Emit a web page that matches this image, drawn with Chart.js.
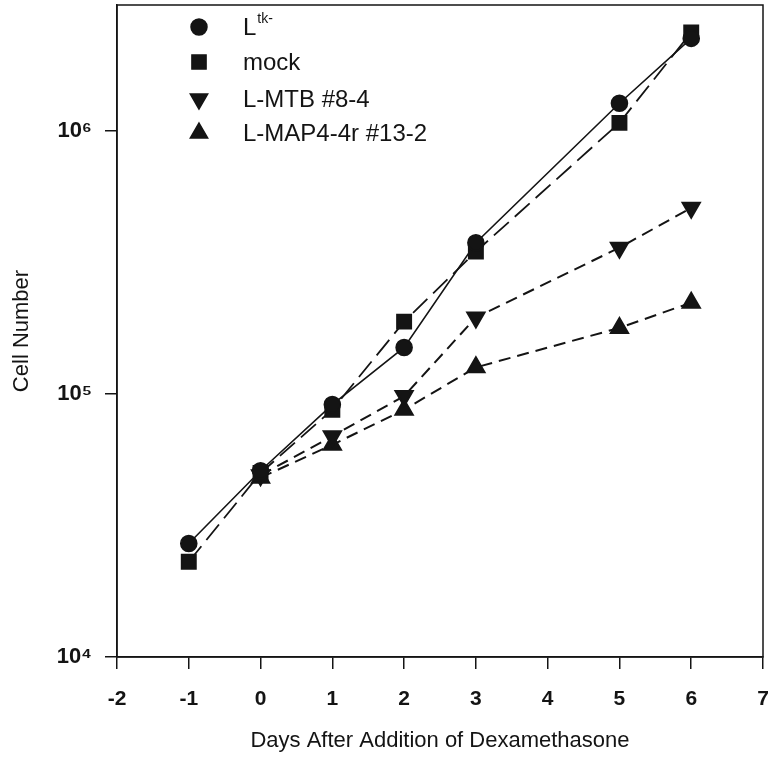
<!DOCTYPE html>
<html>
<head>
<meta charset="utf-8">
<script src="https://cdn.jsdelivr.net/npm/chart.js@4"></script>
<style>
  html, body { margin: 0; padding: 0; background: #fff; }
  #wrap { width: 772px; height: 758px; }
</style>
</head>
<body>
<div id="wrap"><canvas id="myChart" width="772" height="758"></canvas></div>
<script>
// days after dexamethasone, and cell counts
var days = [-1, 0, 1, 2, 3, 5, 6];
var ltk = [27000, 51000, 91000, 150000, 375000, 1270000, 2240000];
var mock = [23000, 50000, 87000, 188000, 347000, 1070000, 2360000];
var mtb = [null, 49000, 69000, 98000, 195000, 359000, 509000];
var map4 = [null, 48000, 64000, 87000, 126000, 178000, 222000];

var seriesNames = ['L^tk-', 'mock', 'L-MTB #8-4', 'L-MAP4-4r #13-2'];
var yTicks = [10000, 100000, 1000000];
var supDigits = { '4': '\u2074', '5': '\u2075', '6': '\u2076' };

var ink = '#141414';
var fam = "'Liberation Sans', Arial, sans-serif";

function pts(vals) {
    var out = [];
    for (var i = 0; i < days.length; i++) {
        if (vals[i] !== null) out.push({ x: days[i], y: vals[i] });
    }
    return out;
}

Chart.defaults.font.family = fam;
Chart.defaults.font.size = 22;
Chart.defaults.color = ink;

// frame round the plot + legend in the upper left corner
var framePlugin = {
    id: 'frame',
    afterDraw: function (chart) {
        var ctx = chart.ctx;
        var a = chart.chartArea;
        ctx.save();
        ctx.strokeStyle = ink;
        ctx.lineWidth = 1.5;
        ctx.strokeRect(a.left, a.top, a.right - a.left, a.bottom - a.top);

        var rowY = [27, 62, 99, 133];
        chart.data.datasets.forEach(function (ds, i) {
            ctx.fillStyle = ink;
            ctx.strokeStyle = ink;
            Chart.helpers.drawPoint(ctx, {
                pointStyle: ds.pointStyle,
                rotation: ds.pointRotation || 0,
                radius: ds.pointRadius,
                borderWidth: 1
            }, 199, rowY[i]);
            var parts = seriesNames[i].split('^');
            ctx.font = '24px ' + fam;
            ctx.textBaseline = 'middle';
            ctx.textAlign = 'left';
            ctx.fillText(parts[0], 243, rowY[i] + 1);
            if (parts[1]) {
                var w = ctx.measureText(parts[0]).width;
                ctx.font = '14px ' + fam;
                ctx.fillText(parts[1], 243 + w + 1, rowY[i] - 8);
            }
        });
        ctx.restore();
    }
};

var ctx = document.getElementById('myChart').getContext('2d');
new Chart(ctx, {
    type: 'line',
    data: {
        datasets: [{
            label: 'Ltk-',
            data: pts(ltk),
            borderColor: ink,
            backgroundColor: ink,
            borderWidth: 1.6,
            pointStyle: 'circle',
            pointRadius: 8
        }, {
            label: 'mock',
            data: pts(mock),
            borderColor: ink,
            backgroundColor: ink,
            borderWidth: 1.8,
            borderDash: [20, 8],
            pointStyle: 'rect',
            pointRadius: 10
        }, {
            label: 'L-MTB #8-4',
            data: pts(mtb),
            borderColor: ink,
            backgroundColor: ink,
            borderWidth: 2,
            borderDash: [12, 7],
            pointStyle: 'triangle',
            pointRotation: 180,
            pointRadius: 10
        }, {
            label: 'L-MAP4-4r #13-2',
            data: pts(map4),
            borderColor: ink,
            backgroundColor: ink,
            borderWidth: 2,
            borderDash: [12, 7],
            pointStyle: 'triangle',
            pointRadius: 10
        }]
    },
    options: {
        responsive: false,
        animation: false,
        layout: { autoPadding: false, padding: { top: 5, right: 9, left: 0, bottom: 0 } },
        plugins: {
            legend: { display: false },
            tooltip: { enabled: false }
        },
        scales: {
            x: {
                type: 'linear',
                min: -2,
                max: 7,
                afterFit: function (scale) {
                    scale.height = 101;
                    scale.paddingLeft = 0;
                    scale.paddingRight = 0;
                },
                ticks: { stepSize: 1, padding: 18, font: { size: 21, weight: 'bold' } },
                grid: { drawOnChartArea: false, tickLength: 12, color: ink, lineWidth: 1.5 },
                border: { color: ink, width: 1.5 },
                title: {
                    display: true,
                    text: 'Days After Addition of Dexamethasone',
                    padding: { top: 4, bottom: 4 }
                }
            },
            y: {
                type: 'logarithmic',
                min: 10000,
                max: 3000000,
                afterFit: function (scale) {
                    scale.width = 117;
                    scale.paddingTop = 0;
                    scale.paddingBottom = 0;
                },
                afterBuildTicks: function (scale) {
                    scale.ticks = yTicks.map(function (v) { return { value: v }; });
                },
                ticks: {
                    padding: 13,
                    font: { size: 22, weight: 'bold' },
                    callback: function (v) {
                        var e = String(Math.round(Math.log10(v)));
                        return '10' + (supDigits[e] || e);
                    }
                },
                grid: { drawOnChartArea: false, tickLength: 12, color: ink, lineWidth: 1.5 },
                border: { color: ink, width: 1.5 },
                title: {
                    display: true,
                    text: 'Cell Number',
                    padding: { top: 9, bottom: 4 }
                }
            }
        }
    },
    plugins: [framePlugin]
});
</script>
</body>
</html>
